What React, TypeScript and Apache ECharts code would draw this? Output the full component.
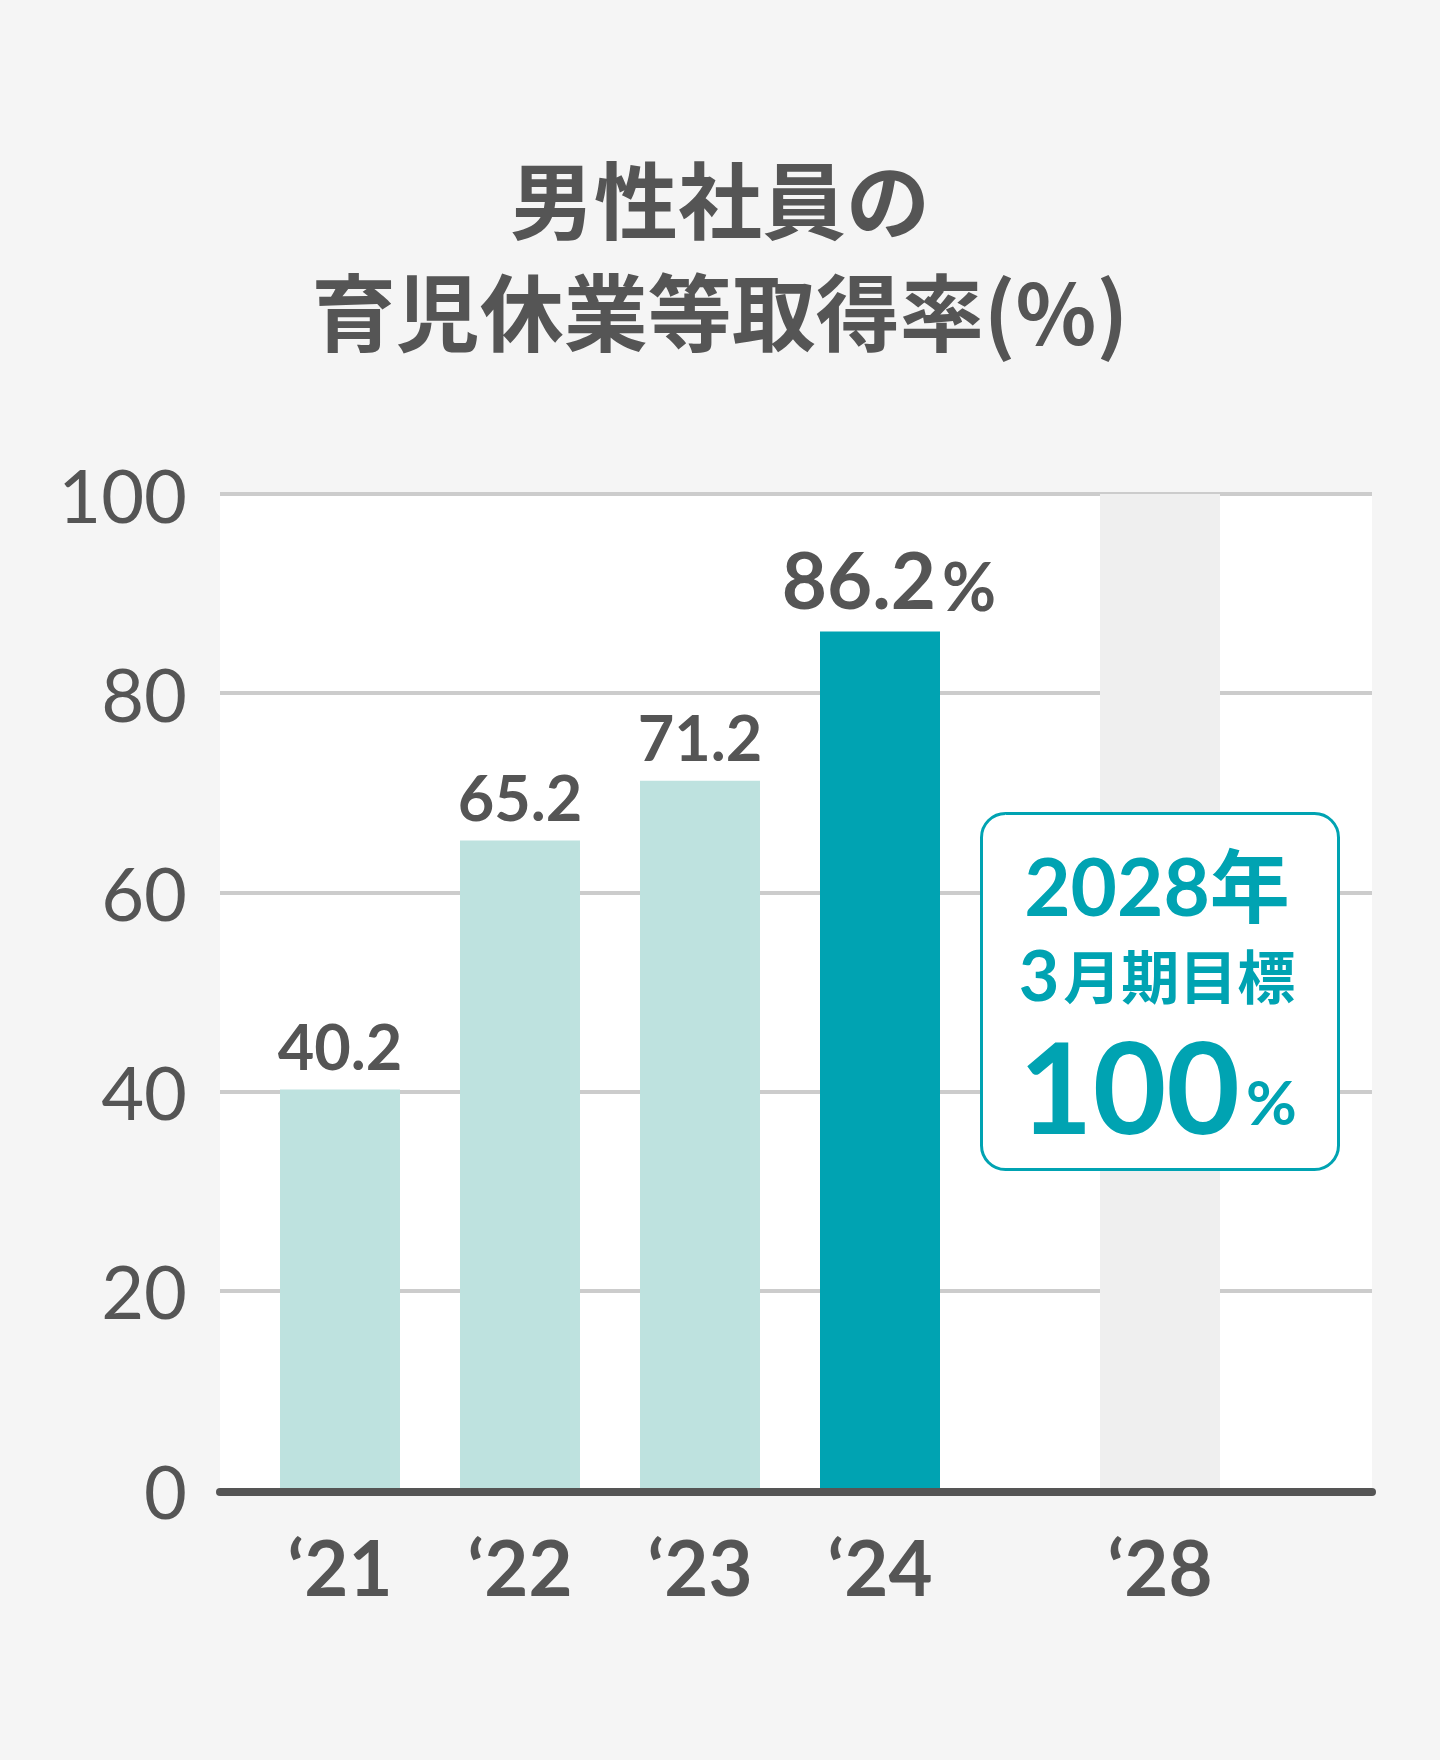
import React, { useEffect, useRef } from 'react';
import * as echarts from 'echarts';

const TITLE_LINES = ['男性社員の', '育児休業等取得率(%)'];
const CATEGORIES = ['‘21', '‘22', '‘23', '‘24'];
const RATES = [40.2, 65.2, 71.2, 86.2];
const TARGET_CATEGORY = ['‘28'];
const TARGET_VALUE = [100];
const Y_TICKS = [0, 20, 40, 60, 80, 100];
const TARGET_YEAR = '2028年';
const TARGET_MONTH = '3';
const TARGET_PERIOD = '月期目標';
const TARGET_TEXT = '100';

const TEAL = '#00a3b2';
const LIGHT = '#bee2df';
const GREY_COL = '#efefef';
const TEXT = '#555555';
const NUM_FONT = "Lato, 'Noto Sans CJK JP', sans-serif";
const CJK_FONT = "'Noto Sans CJK JP', sans-serif";

export default function App() {
  const ref = useRef<HTMLDivElement>(null);
  useEffect(() => {
    document.body.style.margin = '0';
    if (!ref.current) return;
    const chart = echarts.init(ref.current, undefined, { renderer: 'svg' });
    const last = RATES.length - 1;
    const xLabel = {
      fontSize: 76,
      fontWeight: 'bold' as const,
      color: TEXT,
      fontFamily: NUM_FONT,
      margin: 38,
    };
    const Z = 100;
    chart.setOption({
      animation: false,
      backgroundColor: '#f5f5f5',
      grid: [
        { left: 220, right: 68, top: 494, bottom: 270, show: true, backgroundColor: '#ffffff', borderWidth: 0 },
        { left: 250, right: 470, top: 494, bottom: 270 },
        { left: 1070, right: 190, top: 494, bottom: 270 },
      ],
      xAxis: [
        {
          type: 'value',
          gridIndex: 0,
          min: 0,
          max: 1,
          offset: 2,
          z: 10,
          axisLine: { show: true, onZero: false, lineStyle: { color: TEXT, width: 8 } },
          axisTick: { show: false },
          axisLabel: { show: false },
          splitLine: { show: false },
        },
        {
          type: 'category',
          gridIndex: 1,
          data: CATEGORIES,
          axisLine: { show: false },
          axisTick: { show: false },
          axisLabel: xLabel,
        },
        {
          type: 'category',
          gridIndex: 2,
          data: TARGET_CATEGORY,
          axisLine: { show: false },
          axisTick: { show: false },
          axisLabel: xLabel,
        },
      ],
      yAxis: [
        {
          type: 'value',
          gridIndex: 0,
          min: Y_TICKS[0],
          max: Y_TICKS[Y_TICKS.length - 1],
          interval: Y_TICKS[1] - Y_TICKS[0],
          axisLine: { show: false },
          axisTick: { show: false },
          axisLabel: { fontSize: 74, color: TEXT, fontFamily: NUM_FONT, margin: 33 },
          splitLine: { show: true, lineStyle: { color: '#cccccc', width: 4 } },
        },
        { type: 'value', gridIndex: 1, min: Y_TICKS[0], max: Y_TICKS[Y_TICKS.length - 1], show: false },
        { type: 'value', gridIndex: 2, min: Y_TICKS[0], max: Y_TICKS[Y_TICKS.length - 1], show: false },
      ],
      series: [
        {
          type: 'bar',
          xAxisIndex: 1,
          yAxisIndex: 1,
          data: RATES,
          barWidth: 120,
          itemStyle: {
            color: (p: any) => (p.dataIndex === last ? TEAL : LIGHT),
          },
          label: {
            show: true,
            position: 'top',
            distance: 13,
            formatter: (p: any) =>
              p.dataIndex === last ? `{big|${p.value}}{pct|%}` : `{v|${p.value}}`,
            rich: {
              v: { fontSize: 63, fontWeight: 'bold', color: TEXT, fontFamily: NUM_FONT },
              big: { fontSize: 78, fontWeight: 'bold', color: TEXT, fontFamily: NUM_FONT, verticalAlign: 'bottom', padding: [0, 0, 0, 18] },
              pct: { fontSize: 66, fontWeight: 'bold', color: TEXT, fontFamily: NUM_FONT, verticalAlign: 'bottom', padding: [0, 0, 0, 6] },
            },
          },
        },
        {
          type: 'bar',
          xAxisIndex: 2,
          yAxisIndex: 2,
          data: TARGET_VALUE,
          barWidth: 120,
          silent: true,
          itemStyle: { color: GREY_COL },
          label: { show: false },
        },
      ],
      graphic: [
        {
          type: 'text',
          x: 720,
          y: 140,
          z: Z,
          style: {
            text: TITLE_LINES.join('\n'),
            fontSize: 84,
            fontWeight: 'bold',
            fontFamily: CJK_FONT,
            lineHeight: 112,
            fill: TEXT,
            align: 'center',
            verticalAlign: 'top',
            textAlign: 'center',
            textVerticalAlign: 'top',
          },
        },
        {
          type: 'rect',
          z: Z,
          shape: { x: 981.5, y: 813.5, width: 357, height: 356, r: 24 },
          style: { fill: '#ffffff', stroke: TEAL, lineWidth: 3 },
        },
        {
          type: 'text',
          z: Z + 1,
          x: 1157,
          y: 885,
          style: {
            text: TARGET_YEAR,
            fontSize: 80,
            fontWeight: 'bold',
            fontFamily: NUM_FONT,
            fill: TEAL,
            align: 'center',
            verticalAlign: 'middle',
            textAlign: 'center',
            textVerticalAlign: 'middle',
          },
        },
        {
          type: 'text',
          z: Z + 1,
          x: 1157,
          y: 974,
          style: {
            text: `{n|${TARGET_MONTH}}{k|${TARGET_PERIOD}}`,
            fill: TEAL,
            align: 'center',
            verticalAlign: 'middle',
            textAlign: 'center',
            textVerticalAlign: 'middle',
            rich: {
              n: { fontSize: 70, fontWeight: 'bold', fontFamily: NUM_FONT, fill: TEAL, verticalAlign: 'middle' },
              k: { fontSize: 58, fontWeight: 'bold', fontFamily: CJK_FONT, fill: TEAL, verticalAlign: 'middle', padding: [0, 0, 0, 4] },
            },
          },
        },
        {
          type: 'text',
          z: Z + 1,
          x: 1240,
          y: 1085,
          style: {
            text: TARGET_TEXT,
            fontSize: 127,
            fontWeight: 'bold',
            fontFamily: NUM_FONT,
            fill: TEAL,
            align: 'right',
            verticalAlign: 'middle',
            textAlign: 'right',
            textVerticalAlign: 'middle',
          },
        },
        {
          type: 'text',
          z: Z + 1,
          x: 1246,
          y: 1101,
          style: {
            text: '%',
            fontSize: 62,
            fontWeight: 'bold',
            fontFamily: NUM_FONT,
            fill: TEAL,
            align: 'left',
            verticalAlign: 'middle',
            textAlign: 'left',
            textVerticalAlign: 'middle',
          },
        },
      ],
    });
    return () => chart.dispose();
  }, []);
  return <div ref={ref} style={{ width: 1440, height: 1760 }} />;
}
